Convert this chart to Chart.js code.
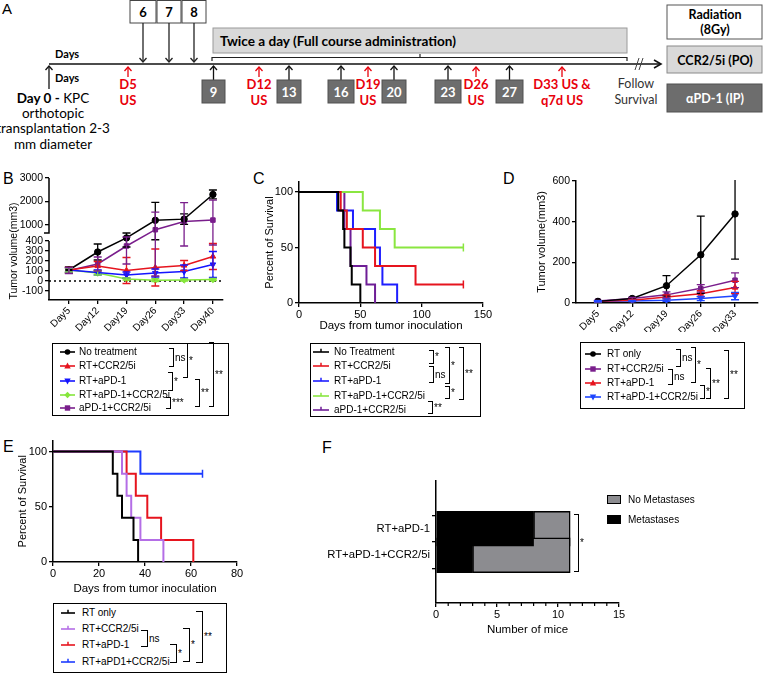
<!DOCTYPE html>
<html>
<head>
<meta charset="utf-8">
<script src="https://cdn.jsdelivr.net/npm/chart.js@4.4.1/dist/chart.umd.min.js"></script>
<style>
  body { margin: 0; background: #fff; }
  #fig { position: relative; width: 763px; height: 674px; overflow: hidden; background: #fff;
         font-family: "Liberation Sans", Arial, sans-serif; color: #000; }
  #fig canvas { position: absolute; }
  .pl { position: absolute; font-size: 16px; line-height: 16px; }
  .leg { position: absolute; border: 1.5px solid #000; box-sizing: border-box; }
  .txt { position: absolute; font-size: 10px; line-height: 12px; white-space: nowrap; }
  .mk { position: absolute; line-height: 0; }
  .br { position: absolute; border: 1.4px solid #000; border-left: none; box-sizing: border-box; }
  .bl { position: absolute; font-size: 10px; line-height: 10px; white-space: nowrap; color: #000; }
</style>
</head>
<body>
<div id="fig">
  <svg id="tl" width="763" height="160" style="position:absolute;left:0;top:0"></svg>
  <div class="pl" style="left:3px;top:171px">B</div>
  <div class="pl" style="left:253px;top:171px">C</div>
  <div class="pl" style="left:503px;top:171px">D</div>
  <div class="pl" style="left:3px;top:439px">E</div>
  <div class="pl" style="left:322px;top:440px">F</div>
  <canvas id="chB" width="240" height="175" style="left:0;top:170px"></canvas>
  <canvas id="chC" width="250" height="165" style="left:250px;top:172px"></canvas>
  <canvas id="chD" width="263" height="160" style="left:500px;top:172px"></canvas>
  <canvas id="chE" width="250" height="165" style="left:0;top:435px"></canvas>
  <canvas id="chF" width="320" height="170" style="left:320px;top:470px"></canvas>
</div>
<script>
// ---- B: tumour volume, broken axis
const daysB = ['Day5', 'Day12', 'Day19', 'Day26', 'Day33', 'Day40'];
const ticksB = [-100, 0, 100, 200, 300, 400, 1000, 2000, 3000];
const namesB = ['No treatment', 'RT+CCR2/5i', 'RT+aPD-1', 'RT+aPD-1+CCR2/5i', 'aPD-1+CCR2/5i'];
const volNoTx = [110, 290, 500, 1200, 1250, 2300];
const semNoTx = [30, 80, 160, 760, 220, 190];
const volRtCcr = [110, 150, 105, 135, 155, 245];
const semRtCcr = [25, 45, 130, 185, 50, 130];
const volRtPd1 = [110, 85, 60, 80, 95, 165];
const semRtPd1 = [20, 25, 30, 40, 65, 130];
const volTriple = [110, 80, 20, 8, 10, 15];
const semTriple = [20, 20, 10, 15, 10, 10];
const volPd1Ccr = [105, 170, 350, 800, 1150, 1210];
const semPd1Ccr = [30, 70, 180, 750, 800, 850];

// ---- C: survival (days, percent)
const namesC = ['No Treatment', 'RT+CCR2/5i', 'RT+aPD-1', 'RT+aPD-1+CCR2/5i', 'aPD-1+CCR2/5i'];
const tNoTxC = [0, 32, 36, 37, 42, 43, 50];
const sNoTxC = [100, 83.3, 66.7, 50, 33.3, 16.7, 0];
const tRtCcrC = [0, 34, 39, 52, 62, 95, 134];
const sRtCcrC = [100, 83.3, 66.7, 50, 33.3, 16.7, 16.7];
const tRtPd1C = [0, 31, 44, 62, 66, 68, 80];
const sRtPd1C = [100, 83.3, 66.7, 50, 33.3, 16.7, 0];
const tTripleC = [0, 52, 66, 78, 134];
const sTripleC = [100, 83.3, 66.7, 50, 50];
const tPd1CcrC = [0, 37, 42, 55, 62];
const sPd1CcrC = [100, 66.7, 33.3, 16.7, 0];

// ---- D: tumour volume after RT
const daysD = ['Day5', 'Day12', 'Day19', 'Day26', 'Day33'];
const namesD = ['RT only', 'RT+CCR2/5i', 'RT+aPD-1', 'RT+aPD-1+CCR2/5i'];
const volRtD = [8, 22, 85, 237, 438];
const semRtD = [3, 5, 50, 190, 222];
const volRtCcrD = [10, 22, 40, 72, 112];
const semRtCcrD = [3, 5, 15, 18, 36];
const volRtPd1D = [8, 14, 30, 46, 76];
const semRtPd1D = [3, 4, 10, 15, 30];
const volTripleD = [8, 10, 14, 22, 34];
const semTripleD = [3, 3, 6, 10, 18];

// ---- E: survival after RT
const namesE = ['RT only', 'RT+CCR2/5i', 'RT+aPD-1', 'RT+aPD1+CCR2/5i'];
const tRtE = [0, 26, 28, 30, 35, 37];
const sRtE = [100, 80, 60, 40, 20, 0];
const tRtCcrE = [0, 30, 32, 34, 38, 48];
const sRtCcrE = [100, 80, 60, 40, 20, 0];
const tRtPd1E = [0, 32, 36, 41, 47, 61];
const sRtPd1E = [100, 80, 60, 40, 20, 0];
const tTripleE = [0, 38, 65];
const sTripleE = [100, 80, 80];

// ---- F: metastases
const groupsF = ['RT+aPD-1', 'RT+aPD-1+CCR2/5i'];
const metF = [8, 3];
const noMetF = [3, 8];

const fig = document.getElementById('fig');
const BLACK = '#000', RED = '#e6141e';
const FONT = '"Liberation Sans", Arial, sans-serif';

Chart.defaults.font.family = FONT;
Chart.defaults.color = BLACK;
Chart.defaults.animation = false;
Chart.defaults.responsive = false;
Chart.defaults.events = [];
Chart.defaults.plugins.legend.display = false;
Chart.defaults.plugins.tooltip.enabled = false;

// y scale with a gap between 400 and 660 (panel B)
const BRK_B = { low: 400, high: 660, lowFrac: 59 / 122, gapFrac: 8 / 122 };
class BrokenScale extends Chart.LinearScale {
  frac(v) {
    const b = BRK_B;
    if (v <= b.low) return (v - this.min) / (b.low - this.min) * b.lowFrac;
    if (v <= b.high) return b.lowFrac + (v - b.low) / (b.high - b.low) * b.gapFrac;
    return b.lowFrac + b.gapFrac + (v - b.high) / (this.max - b.high) * (1 - b.lowFrac - b.gapFrac);
  }
  getPixelForValue(v) { return this.bottom - this.frac(v) * (this.bottom - this.top); }
  getValueForPixel(p) {
    const f = (this.bottom - p) / (this.bottom - this.top), b = BRK_B;
    if (f <= b.lowFrac) return this.min + f / b.lowFrac * (b.low - this.min);
    if (f <= b.lowFrac + b.gapFrac) return b.low + (f - b.lowFrac) / b.gapFrac * (b.high - b.low);
    return b.high + (f - b.lowFrac - b.gapFrac) / (1 - b.lowFrac - b.gapFrac) * (this.max - b.high);
  }
}
BrokenScale.id = 'broken';
BrokenScale.defaults = {};
Chart.register(BrokenScale);

const grid = { drawOnChartArea: false, color: BLACK, lineWidth: 1.3, tickLength: 4 };
const border = { color: BLACK, width: 1.5 };
const fixW = w => s => { s.width = w; s.paddingTop = 0; s.paddingBottom = 0; };
const fixH = h => s => { s.height = h; s.paddingLeft = 0; s.paddingRight = 0; };
const setTicks = list => s => { s.ticks = list.map(v => ({ value: v })); };

// error bars (SEM) on top of the line series
const errorBars = {
  id: 'errorBars',
  afterDatasetsDraw(chart) {
    const { ctx, chartArea: a, scales: { x, y } } = chart;
    ctx.save();
    ctx.beginPath();
    ctx.rect(a.left, a.top - 1, a.right - a.left, a.bottom - a.top + 1);
    ctx.clip();
    chart.data.datasets.forEach(ds => {
      if (!ds.errors) return;
      ctx.strokeStyle = ds.borderColor;
      ctx.lineWidth = 1.3;
      ds.data.forEach((p, i) => {
        const px = x.getPixelForValue(p.x);
        const hi = y.getPixelForValue(p.y + ds.errors[i]);
        const lo = y.getPixelForValue(p.y - ds.errors[i]);
        ctx.beginPath();
        ctx.moveTo(px, hi); ctx.lineTo(px, lo);
        ctx.moveTo(px - 4, hi); ctx.lineTo(px + 4, hi);
        ctx.moveTo(px - 4, lo); ctx.lineTo(px + 4, lo);
        ctx.stroke();
      });
    });
    ctx.restore();
  }
};

function lineSet(vals, errs, color, style, rot) {
  return {
    data: vals.map((v, i) => ({ x: i, y: v })), errors: errs,
    borderColor: color, backgroundColor: color, borderWidth: 1.5,
    pointStyle: style, pointRotation: rot || 0, pointRadius: 3.2,
    pointBorderWidth: 1, tension: 0
  };
}

// ---------- B ----------
const brokenAxis = {
  id: 'brokenAxis',
  beforeDatasetsDraw(chart) {
    const { ctx, chartArea: a, scales: { y } } = chart;
    ctx.save();
    ctx.strokeStyle = BLACK; ctx.lineWidth = 1.5; ctx.setLineDash([2, 3]);
    ctx.beginPath(); ctx.moveTo(a.left, y.getPixelForValue(0)); ctx.lineTo(a.right, y.getPixelForValue(0)); ctx.stroke();
    ctx.restore();
  },
  afterDraw(chart) {
    const { ctx, chartArea: a, scales: { y } } = chart;
    const yHi = y.getPixelForValue(BRK_B.high), yLo = y.getPixelForValue(BRK_B.low);
    ctx.save();
    ctx.strokeStyle = BLACK; ctx.lineWidth = 1.5;
    ctx.beginPath();
    ctx.moveTo(a.left, a.top); ctx.lineTo(a.left, yHi); ctx.lineTo(a.left - 5, yHi);
    ctx.moveTo(a.left, yLo); ctx.lineTo(a.left, a.bottom);
    ctx.stroke();
    // axis title, sitting low along the axis as in the figure
    ctx.translate(14, a.bottom - 49);
    ctx.rotate(-Math.PI / 2);
    ctx.font = '10.5px ' + FONT;
    ctx.fillStyle = BLACK; ctx.textAlign = 'center'; ctx.textBaseline = 'middle';
    ctx.fillText('Tumor volume(mm3)', 0, 0);
    ctx.restore();
  }
};

new Chart(document.getElementById('chB'), {
  type: 'line',
  data: { datasets: [
    lineSet(volNoTx, semNoTx, BLACK, 'circle'),
    lineSet(volRtCcr, semRtCcr, RED, 'triangle'),
    lineSet(volRtPd1, semRtPd1, '#1414ff', 'triangle', 180),
    lineSet(volTriple, semTriple, '#86e63c', 'rectRot'),
    lineSet(volPd1Ccr, semPd1Ccr, '#7a1e8c', 'rect')
  ] },
  options: {
    layout: { padding: { top: 8, right: 17, left: 0, bottom: 0 } },
    scales: {
      x: { type: 'linear', bounds: 'data', min: -0.69, max: 5.35,
        afterBuildTicks: setTicks(daysB.map((d, i) => i)), afterFit: fixH(45),
        grid, border,
        ticks: { autoSkip: false, font: { size: 10 }, minRotation: 45, maxRotation: 45, padding: 1, callback: v => daysB[v] } },
      y: { type: 'broken', bounds: 'data', min: -190, max: 3000,
        afterBuildTicks: setTicks(ticksB), afterFit: fixW(49),
        grid, border: { display: false },
        ticks: { autoSkip: false, font: { size: 10.5 }, padding: 2, callback: v => String(v) } }
    }
  },
  plugins: [errorBars, brokenAxis]
});

// ---------- C / E survival ----------
function survSet(t, s, color) {
  const cens = s[s.length - 1] === s[s.length - 2] && s[s.length - 1] > 0;
  return {
    data: t.map((x, i) => ({ x, y: s[i] })), stepped: true,
    borderColor: color, backgroundColor: color, borderWidth: 2,
    pointStyle: 'line', pointRotation: 90, pointBorderWidth: 1.5,
    pointRadius: t.map((x, i) => (cens && i === t.length - 1 ? 4 : 0))
  };
}
function survChart(id, sets, xMax, xStep, yMax, g) {
  new Chart(document.getElementById(id), {
    type: 'line',
    data: { datasets: sets },
    options: {
      layout: { padding: { top: g.top, right: g.right, left: 0, bottom: 0 } },
      scales: {
        x: { type: 'linear', bounds: 'data', min: 0, max: xMax, afterFit: fixH(g.xh),
          grid, border, ticks: { autoSkip: false, stepSize: xStep, font: { size: 11 }, padding: 1 },
          title: { display: true, text: 'Days from tumor inoculation', font: { size: 11.5 }, padding: { top: 0, bottom: 4 } } },
        y: { type: 'linear', bounds: 'data', min: 0, max: yMax, afterFit: fixW(g.yw),
          afterBuildTicks: setTicks([0, 50, 100]),
          grid, border, ticks: { autoSkip: false, font: { size: 11 }, padding: 2 },
          title: { display: true, text: 'Percent of Survival', font: { size: 11 }, padding: { top: g.tp, bottom: 0 } } }
      }
    }
  });
}
survChart('chC', [
  survSet(tNoTxC, sNoTxC, BLACK),
  survSet(tRtCcrC, sRtCcrC, RED),
  survSet(tRtPd1C, sRtPd1C, '#1e1eff'),
  survSet(tTripleC, sTripleC, '#8ae640'),
  survSet(tPd1CcrC, sPd1CcrC, '#6e1e96')
], 150, 50, 109, { top: 10, right: 17, xh: 34, yw: 49, tp: 13 });

survChart('chE', [
  survSet(tRtE, sRtE, BLACK),
  survSet(tRtCcrE, sRtCcrE, '#b46ee6'),
  survSet(tRtPd1E, sRtPd1E, RED),
  survSet(tTripleE, sTripleE, '#1e3cff')
], 80, 20, 110, { top: 5, right: 13, xh: 38, yw: 53, tp: 16 });

// ---------- D ----------
new Chart(document.getElementById('chD'), {
  type: 'line',
  data: { datasets: [
    lineSet(volRtD, semRtD, BLACK, 'circle'),
    lineSet(volRtCcrD, semRtCcrD, '#7a1e8c', 'rect'),
    lineSet(volRtPd1D, semRtPd1D, RED, 'triangle'),
    lineSet(volTripleD, semTripleD, '#1e46ff', 'triangle', 180)
  ] },
  options: {
    layout: { padding: { top: 9, right: 4, left: 0, bottom: 0 } },
    scales: {
      x: { type: 'linear', bounds: 'data', min: -0.64, max: 4.67,
        afterBuildTicks: setTicks(daysD.map((d, i) => i)), afterFit: fixH(29),
        grid, border,
        ticks: { autoSkip: false, font: { size: 10 }, minRotation: 45, maxRotation: 45, padding: 1, callback: v => daysD[v] } },
      y: { type: 'linear', bounds: 'data', min: 0, max: 600,
        afterBuildTicks: setTicks([0, 200, 400, 600]), afterFit: fixW(76),
        grid, border, ticks: { autoSkip: false, font: { size: 10.5 }, padding: 2 },
        title: { display: true, text: 'Tumor volume(mm3)', font: { size: 11 }, padding: { top: 35, bottom: 0 } } }
    }
  },
  plugins: [errorBars]
});

// ---------- F ----------
const minorTicks = {
  id: 'minorTicks',
  afterDraw(chart) {
    const { ctx, chartArea: a, scales: { x } } = chart;
    ctx.save();
    ctx.strokeStyle = BLACK; ctx.lineWidth = 1.2;
    ctx.beginPath();
    for (let v = Math.ceil(x.min); v <= x.max; v++) {
      if (v % 5 === 0) continue;
      const px = x.getPixelForValue(v);
      ctx.moveTo(px, a.bottom); ctx.lineTo(px, a.bottom + 3);
    }
    ctx.stroke();
    ctx.restore();
  }
};
new Chart(document.getElementById('chF'), {
  type: 'bar',
  data: { datasets: [
    { data: metF.map((v, i) => ({ x: v, y: i })), backgroundColor: BLACK,
      borderColor: BLACK, borderWidth: 1.5, borderSkipped: false, barThickness: 35 },
    { data: noMetF.map((v, i) => ({ x: v, y: i })), backgroundColor: '#8c8c90',
      borderColor: BLACK, borderWidth: 1.5, borderSkipped: false, barThickness: 35 }
  ] },
  options: {
    indexAxis: 'y',
    layout: { padding: { top: 11, right: 21, left: 0, bottom: 0 } },
    scales: {
      x: { type: 'linear', stacked: true, bounds: 'data', min: 0, max: 15, afterFit: fixH(37),
        grid, border, ticks: { autoSkip: false, stepSize: 5, font: { size: 11 }, padding: 1 },
        title: { display: true, text: 'Number of mice', font: { size: 11.5 }, padding: { top: 0, bottom: 3 } } },
      y: { type: 'linear', stacked: true, reverse: true, bounds: 'data', min: -0.65, max: 1.65,
        afterBuildTicks: setTicks(groupsF.map((g, i) => i)), afterFit: fixW(116),
        grid, border, ticks: { autoSkip: false, font: { size: 11.3 }, padding: 2, callback: v => groupsF[v] } }
    }
  },
  plugins: [minorTicks]
});

// ---------- legends and significance brackets ----------
function marker(style, color, w) {
  const c = w / 2;
  let shape = '';
  if (style === 'circle') shape = `<circle cx="${c}" cy="5" r="2.8" fill="${color}"/>`;
  if (style === 'rect') shape = `<rect x="${c - 2.7}" y="2.3" width="5.4" height="5.4" fill="${color}"/>`;
  if (style === 'tri') shape = `<polygon points="${c},1.6 ${c + 3.2},7.4 ${c - 3.2},7.4" fill="${color}"/>`;
  if (style === 'triDown') shape = `<polygon points="${c - 3.2},2.6 ${c + 3.2},2.6 ${c},8.4" fill="${color}"/>`;
  if (style === 'diamond') shape = `<polygon points="${c},1.8 ${c + 3.2},5 ${c},8.2 ${c - 3.2},5" fill="${color}"/>`;
  if (style === 'tick') shape = `<line x1="${c}" y1="1.8" x2="${c}" y2="5" stroke="${color}" stroke-width="1.5"/>`;
  return `<svg width="${w}" height="10"><line x1="0" y1="5" x2="${w}" y2="5" stroke="${color}" stroke-width="1.6"/>${shape}</svg>`;
}
function add(cls, css, html) {
  const d = document.createElement('div');
  d.className = cls; d.style.cssText = css;
  if (html !== undefined) d.innerHTML = html;
  fig.appendChild(d);
  return d;
}
function legend(box, rows, names, styles, colors, mx, mw, tx) {
  add('leg', `left:${box[0]}px;top:${box[1]}px;width:${box[2] - box[0]}px;height:${box[3] - box[1]}px`);
  names.forEach((n, i) => {
    add('mk', `left:${mx}px;top:${rows[i] - 5}px`, marker(styles[i], colors[i], mw));
    add('txt', `left:${tx}px;top:${rows[i] - 6}px`).textContent = n;
  });
}
function brackets(list, arm) {
  list.forEach(([x, y1, y2, lab]) => {
    add('br', `left:${x - arm}px;top:${y1}px;width:${arm + 1.4}px;height:${y2 - y1}px`);
    add('bl', `left:${x + 2}px;top:${(y1 + y2) / 2 - 5}px`).textContent = lab;
  });
}

legend([52, 343, 229, 416], [352, 366, 381, 395, 408], namesB,
  ['circle', 'tri', 'triDown', 'diamond', 'rect'],
  [BLACK, RED, '#1414ff', '#86e63c', '#7a1e8c'], 60, 15, 79);
brackets([[173, 348, 367, 'ns'], [172, 372, 391, '*'], [170, 397, 409, '***'],
          [187, 343, 378, '*'], [199, 379, 407, '**'], [213, 342, 407, '**']], 4);

legend([310, 343, 481, 417], [352, 366, 381, 396, 410], namesC,
  ['tick', 'tick', 'tick', 'tick', 'tick'],
  [BLACK, RED, '#1e1eff', '#8ae640', '#6e1e96'], 313, 16, 334);
brackets([[433, 350, 364, '*'], [433, 366, 383, 'ns'], [449, 347, 384, '*'],
          [449, 386, 399, '*'], [432, 401, 414, '**'], [463, 347, 400, '**']], 4);

legend([580, 342, 745, 409], [354, 369, 383, 397], namesD,
  ['circle', 'rect', 'tri', 'triDown'],
  [BLACK, '#7a1e8c', RED, '#1e46ff'], 585, 16, 607);
brackets([[680, 349, 367, 'ns'], [672, 369, 385, 'ns'], [695, 347, 383, '*'],
          [704, 385, 399, '*'], [710, 368, 399, '**'], [728, 350, 399, '**']], 4);

legend([53, 603, 227, 673], [613, 629, 645, 662], namesE,
  ['tick', 'tick', 'tick', 'tick'],
  [BLACK, '#b46ee6', RED, '#1e3cff'], 61, 14, 82);
brackets([[147, 630, 647, 'ns'], [176, 644, 663, '*'], [189, 628, 662, '*'], [202, 611, 663, '**']], 6);

// F legend + bracket
add('', 'position:absolute;left:607px;top:495px;width:14px;height:9px;background:#8c8c90;border:1.5px solid #000;box-sizing:border-box');
add('txt', 'left:628px;top:494px').textContent = 'No Metastases';
add('', 'position:absolute;left:607px;top:515px;width:14px;height:9px;background:#000');
add('txt', 'left:628px;top:514px').textContent = 'Metastases';
brackets([[578, 514, 572, '*']], 4);

// ---------- A: treatment timeline ----------
(function timeline() {
  const F = 'font-family="Lato, \'Open Sans\', sans-serif"';
  const arrow = (x, y1, y2, col, w) => {
    const d = y2 < y1 ? 4 : -4;
    return `<line x1="${x}" y1="${y1}" x2="${x}" y2="${y2}" stroke="${col}" stroke-width="${w}"/>` +
      `<polyline points="${x - 3.5},${y2 + d} ${x},${y2} ${x + 3.5},${y2 + d}" fill="none" stroke="${col}" stroke-width="${w}"/>`;
  };
  let s = `<text x="2" y="14" font-family="Liberation Sans, Arial" font-size="15">A</text>`;
  [[130, 156, '6'], [157, 181, '7'], [182, 206, '8']].forEach(([a, b, t]) => {
    s += `<rect x="${a}" y="0.5" width="${b - a}" height="22.5" fill="#fff" stroke="#444" stroke-width="1"/>`;
    s += `<text x="${(a + b) / 2}" y="17" text-anchor="middle" ${F} font-weight="bold" font-size="13">${t}</text>`;
    s += arrow((a + b) / 2, 23, 62, '#222', 1.3);
  });
  s += `<rect x="213" y="28" width="414" height="25" fill="#d9d9d9" stroke="#9a9a9a" stroke-width="1"/>`;
  s += `<text x="220" y="46" ${F} font-weight="bold" font-size="14" textLength="236" lengthAdjust="spacingAndGlyphs">Twice a day (Full course administration)</text>`;
  s += `<polyline points="212,61 212,57.5 627,57.5 627,61" fill="none" stroke="#222" stroke-width="1.2"/>`;
  s += `<line x1="420" y1="57.5" x2="420" y2="54" stroke="#222" stroke-width="1.2"/>`;
  s += `<line x1="49" y1="64" x2="660" y2="64" stroke="#111" stroke-width="1.6"/>`;
  s += `<polyline points="654,60 661,64 654,68" fill="none" stroke="#111" stroke-width="1.6"/>`;
  s += `<line x1="635" y1="70" x2="639" y2="58" stroke="#444" stroke-width="1"/><line x1="639" y1="70" x2="643" y2="58" stroke="#444" stroke-width="1"/>`;
  s += `<text x="55" y="58" ${F} font-weight="bold" font-size="11">Days</text>`;
  s += `<text x="55" y="82" ${F} font-weight="bold" font-size="11">Days</text>`;
  s += arrow(49, 89, 66, '#111', 1.3);
  s += `<text x="53" y="103" text-anchor="middle" ${F} font-size="13.5"><tspan font-weight="bold">Day 0 -</tspan> KPC</text>`;
  s += `<text x="53" y="118" text-anchor="middle" ${F} font-size="13.5">orthotopic</text>`;
  s += `<text x="53" y="133" text-anchor="middle" ${F} font-size="13.5">transplantation 2-3</text>`;
  s += `<text x="53" y="149" text-anchor="middle" ${F} font-size="13.5">mm diameter</text>`;
  [[128, 'D5', 'US'], [259, 'D12', 'US'], [368, 'D19', 'US'], [476, 'D26', 'US'], [562, 'D33 US &amp;', 'q7d US']].forEach(([x, a, b]) => {
    s += arrow(x, 77, 67, '#e8000b', 1.3);
    s += `<text x="${x}" y="89" text-anchor="middle" ${F} font-weight="bold" font-size="13" fill="#e8000b">${a}</text>`;
    s += `<text x="${x}" y="105" text-anchor="middle" ${F} font-weight="bold" font-size="13" fill="#e8000b">${b}</text>`;
  });
  [[202, 225, '9'], [277, 301, '13'], [328, 354, '16'], [382, 406, '20'], [435, 461, '23'], [496, 523, '27']].forEach(([a, b, t]) => {
    s += arrow((a + b) / 2, 80, 66, '#111', 1.3);
    s += `<rect x="${a}" y="80" width="${b - a}" height="23" fill="#6d6d6d" stroke="#505050" stroke-width="1"/>`;
    s += `<text x="${(a + b) / 2}" y="96.5" text-anchor="middle" ${F} font-weight="bold" font-size="13" fill="#fff">${t}</text>`;
  });
  s += `<text x="636" y="88" text-anchor="middle" ${F} font-size="12.5" fill="#333">Follow</text>`;
  s += `<text x="636" y="104" text-anchor="middle" ${F} font-size="12.5" fill="#333">Survival</text>`;
  s += `<rect x="667" y="5" width="95" height="34" fill="#fff" stroke="#555" stroke-width="1"/>`;
  s += `<text x="715" y="19" text-anchor="middle" ${F} font-weight="bold" font-size="12.5">Radiation</text>`;
  s += `<text x="715" y="34" text-anchor="middle" ${F} font-weight="bold" font-size="12.5">(8Gy)</text>`;
  s += `<rect x="667" y="46" width="95" height="27" fill="#d9d9d9" stroke="#8a8a8a" stroke-width="1"/>`;
  s += `<text x="715" y="64.5" text-anchor="middle" ${F} font-weight="bold" font-size="12.5">CCR2/5i (PO)</text>`;
  s += `<rect x="667" y="84" width="95" height="28" fill="#6d6d6d" stroke="#505050" stroke-width="1"/>`;
  s += `<text x="715" y="103" text-anchor="middle" ${F} font-weight="bold" font-size="12.5" fill="#fff">αPD-1 (IP)</text>`;
  document.getElementById('tl').innerHTML = s;
})();
</script>
</body>
</html>
